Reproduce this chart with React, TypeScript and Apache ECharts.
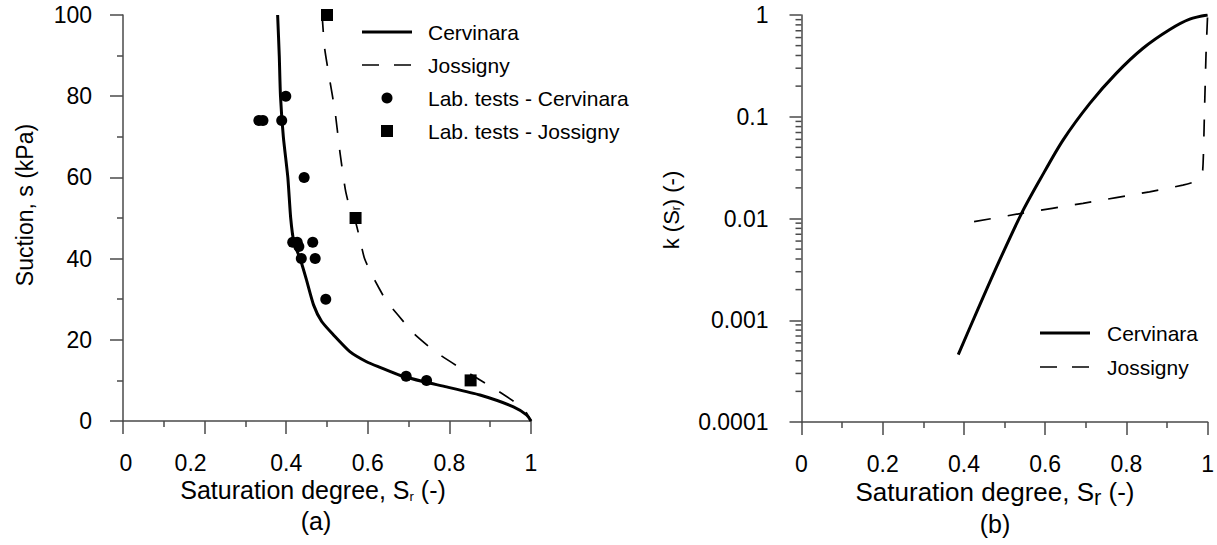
import React, { useEffect, useRef } from "react";
import * as echarts from "echarts";

// ---- Data: panel (a) water retention ----
const cervinaraCurveS = [0.379, 0.383, 0.386, 0.393, 0.404, 0.411, 0.419, 0.434, 0.449, 0.467, 0.487, 0.516, 0.556, 0.597, 0.63, 0.68, 0.74, 0.793, 0.875, 0.957, 0.989, 1.0];
const cervinaraCurveSuction = [100, 90, 80, 70, 60, 50, 44, 40, 35, 28.6, 24.5, 21.2, 17.1, 14.6, 13.2, 11.2, 9.6, 8.4, 6.4, 3.5, 1.5, 0];

const jossignyCurveS = [0.488, 0.494, 0.505, 0.52, 0.532, 0.545, 0.557, 0.57, 0.58, 0.592, 0.61, 0.626, 0.646, 0.675, 0.712, 0.765, 0.834, 0.916, 0.981, 1.0];
const jossignyCurveSuction = [100, 92, 85, 76, 66, 57, 52, 49, 45, 40, 36, 33, 29.5, 26, 21.6, 17.1, 12.6, 7.6, 3.1, 0];

const labCervinaraS = [0.333, 0.343, 0.389, 0.399, 0.444, 0.416, 0.427, 0.431, 0.465, 0.437, 0.471, 0.497, 0.694, 0.744];
const labCervinaraSuction = [74, 74, 74, 80, 60, 44, 44, 43, 44, 40, 40, 30, 11, 10];

const labJossignyS = [0.5, 0.57, 0.852];
const labJossignySuction = [100, 50, 10];

// ---- Data: panel (b) relative permeability ----
const kCervinaraS = [0.386, 0.435, 0.484, 0.542, 0.587, 0.644, 0.71, 0.775, 0.841, 0.907, 0.956, 1.0];
const kCervinaraK = [0.00046, 0.0013, 0.0036, 0.01125, 0.024, 0.059, 0.1355, 0.267, 0.471, 0.72, 0.91, 1.0];

const kJossignyS = [0.425, 0.542, 0.693, 0.857, 0.939, 0.968, 0.981, 0.988, 0.992, 0.996, 1.0];
const kJossignyK = [0.0093, 0.01125, 0.0141, 0.0183, 0.0213, 0.023, 0.026, 0.03, 0.1, 0.4, 1.0];

// ---- Axis ticks ----
const xTickInterval = 0.2;
const suctionTickInterval = 20;
const logDecades = [0.0001, 0.001, 0.01, 0.1];
const logMantissas = [2, 3, 4, 5, 6, 7, 8, 9];

const zip = (a: number[], b: number[]) => a.map((v, i) => [v, b[i]]);

const FONT = "Liberation Sans, Arial, Helvetica, sans-serif";
const AXIS_COLOR = "#4a4a4a";

export default function App() {
  const ref = useRef<HTMLDivElement>(null);

  useEffect(() => {
    if (!ref.current) return;
    const chart = echarts.init(ref.current, undefined, { renderer: "svg" });

    const axisLine = { show: true, lineStyle: { color: AXIS_COLOR, width: 1.5 } };
    const axisTick = { show: true, length: 13, lineStyle: { color: AXIS_COLOR, width: 1.5 } };
    const minorTick = { show: true, splitNumber: 2, length: 6, lineStyle: { color: AXIS_COLOR, width: 1.5 } };
    const labelStyle = { color: "#000", fontFamily: FONT, fontSize: 23 };

    const logMinorTicks: number[] = [];
    logDecades.forEach((d) => logMantissas.forEach((m) => logMinorTicks.push(Number((m * d).toPrecision(2)))));

    const txt = (text: string, x: number, y: number, extra: any = {}) => ({
      type: "text",
      x,
      y,
      silent: true,
      style: { text, fill: "#000", fontFamily: FONT, fontSize: 21, verticalAlign: "middle", align: "left", ...extra },
    });

    const option: any = {
      animation: false,
      backgroundColor: "#fff",
      grid: [
        { left: 123, top: 15, width: 408, height: 406 },
        { left: 801.5, top: 15, width: 406.5, height: 407 },
      ],
      xAxis: [
        {
          gridIndex: 0,
          type: "value",
          min: 0,
          max: 1,
          interval: xTickInterval,
          axisLine,
          axisTick,
          minorTick,
          splitLine: { show: false },
          axisLabel: {
            ...labelStyle,
            margin: 30,
            formatter: (v: number) => {
              if (Math.abs(v - 0.2) < 1e-9) return "{l|0.2}";
              if (Math.abs(v) < 1e-9) return "{r|0}";
              return String(Number(v.toFixed(1)));
            },
            rich: {
              l: { ...labelStyle, padding: [0, 28, 0, 0] },
              r: { ...labelStyle, padding: [0, 0, 0, 6] },
            },
          },
        },
        {
          gridIndex: 1,
          type: "value",
          min: 0,
          max: 1,
          interval: xTickInterval,
          axisLine,
          axisTick,
          minorTick,
          splitLine: { show: false },
          axisLabel: { ...labelStyle, margin: 30, formatter: (v: number) => String(Number(v.toFixed(1))) },
        },
      ],
      yAxis: [
        {
          gridIndex: 0,
          type: "value",
          min: 0,
          max: 100,
          interval: suctionTickInterval,
          axisLine,
          axisTick,
          minorTick,
          splitLine: { show: false },
          axisLabel: { ...labelStyle, margin: 31 },
        },
        {
          gridIndex: 1,
          type: "log",
          logBase: 10,
          min: 0.0001,
          max: 1,
          axisLine,
          axisTick: { ...axisTick, length: 12 },
          minorTick: { show: false },
          splitLine: { show: false },
          axisLabel: {
            ...labelStyle,
            margin: 33,
            formatter: (v: number) => String(Number(v.toPrecision(1))),
          },
        },
      ],
      series: [
        {
          name: "Cervinara",
          type: "line",
          xAxisIndex: 0,
          yAxisIndex: 0,
          data: zip(cervinaraCurveS, cervinaraCurveSuction),
          showSymbol: false,
          smooth: 0.2,
          lineStyle: { color: "#000", width: 3 },
          z: 3,
        },
        {
          name: "Jossigny",
          type: "line",
          xAxisIndex: 0,
          yAxisIndex: 0,
          data: zip(jossignyCurveS, jossignyCurveSuction),
          showSymbol: false,
          smooth: 0.2,
          lineStyle: { color: "#000", width: 1.7, type: [17, 17] },
          z: 3,
        },
        {
          name: "Lab. tests - Cervinara",
          type: "scatter",
          xAxisIndex: 0,
          yAxisIndex: 0,
          data: zip(labCervinaraS, labCervinaraSuction),
          symbol: "circle",
          symbolSize: 11,
          itemStyle: { color: "#000", opacity: 1 },
          z: 4,
        },
        {
          name: "Lab. tests - Jossigny",
          type: "scatter",
          xAxisIndex: 0,
          yAxisIndex: 0,
          data: zip(labJossignyS, labJossignySuction),
          symbol: "rect",
          symbolSize: 12,
          itemStyle: { color: "#000", opacity: 1 },
          z: 4,
        },
        {
          name: "Cervinara k",
          type: "line",
          xAxisIndex: 1,
          yAxisIndex: 1,
          data: zip(kCervinaraS, kCervinaraK),
          showSymbol: false,
          smooth: 0.3,
          lineStyle: { color: "#000", width: 3 },
        },
        {
          name: "Jossigny k",
          type: "line",
          xAxisIndex: 1,
          yAxisIndex: 1,
          data: zip(kJossignyS, kJossignyK),
          showSymbol: false,
          smooth: 0.2,
          lineStyle: { color: "#000", width: 1.7, type: [17, 17] },
        },
        {
          name: "log minor ticks",
          type: "custom",
          xAxisIndex: 1,
          yAxisIndex: 1,
          silent: true,
          clip: false,
          data: logMinorTicks.map((v) => [0, v]),
          renderItem: (_params: any, api: any) => {
            const p = api.coord([0, api.value(1)]);
            return {
              type: "line",
              shape: { x1: p[0] - 6, y1: p[1], x2: p[0], y2: p[1] },
              style: { stroke: AXIS_COLOR, lineWidth: 1.5 },
            };
          },
        },
      ],
      graphic: [
        // legend (a)
        { type: "line", silent: true, shape: { x1: 362, y1: 32, x2: 412, y2: 32 }, style: { stroke: "#000", lineWidth: 3 } },
        { type: "line", silent: true, shape: { x1: 362, y1: 65, x2: 412, y2: 65 }, style: { stroke: "#000", lineWidth: 1.7, lineDash: [17, 15] } },
        { type: "circle", silent: true, shape: { cx: 387, cy: 98, r: 5.5 }, style: { fill: "#000" } },
        { type: "rect", silent: true, shape: { x: 381, y: 125, width: 12, height: 12 }, style: { fill: "#000" } },
        txt("Cervinara", 428, 32),
        txt("Jossigny", 428, 65),
        txt("Lab. tests - Cervinara", 428, 98),
        txt("Lab. tests - Jossigny", 428, 131),
        // legend (b)
        { type: "line", silent: true, shape: { x1: 1040, y1: 333, x2: 1090, y2: 333 }, style: { stroke: "#000", lineWidth: 3 } },
        { type: "line", silent: true, shape: { x1: 1040, y1: 367, x2: 1090, y2: 367 }, style: { stroke: "#000", lineWidth: 1.7, lineDash: [17, 15] } },
        txt("Cervinara", 1107, 333),
        txt("Jossigny", 1107, 367),
        // axis titles (a)
        {
          type: "text",
          x: 313,
          y: 490,
          silent: true,
          style: {
            text: "{a|Saturation degree, S}{s|r}{a| (-)}",
            fill: "#000",
            align: "center",
            verticalAlign: "middle",
            rich: {
              a: { fontFamily: FONT, fontSize: 25, fill: "#000" },
              s: { fontFamily: FONT, fontSize: 13, fill: "#000", padding: [12, 0, 0, 0] },
            },
          },
        },
        txt("(a)", 316, 521, { fontSize: 25, align: "center" }),
        {
          type: "text",
          x: 25,
          y: 205,
          rotation: Math.PI / 2,
          silent: true,
          style: { text: "Suction, s (kPa)", fill: "#000", fontFamily: FONT, fontSize: 23, align: "center", verticalAlign: "middle" },
        },
        // axis titles (b)
        {
          type: "text",
          x: 995,
          y: 492,
          silent: true,
          style: {
            text: "{a|Saturation degree, S}{s|r}{a| (-)}",
            fill: "#000",
            align: "center",
            verticalAlign: "middle",
            rich: {
              a: { fontFamily: FONT, fontSize: 26, fill: "#000" },
              s: { fontFamily: FONT, fontSize: 22, fill: "#000", padding: [10, 0, 0, 0] },
            },
          },
        },
        txt("(b)", 995, 524, { fontSize: 25, align: "center" }),
        {
          type: "text",
          x: 671,
          y: 210,
          rotation: Math.PI / 2,
          silent: true,
          style: {
            text: "{a|k (S}{s|r}{a|) (-)}",
            fill: "#000",
            align: "center",
            verticalAlign: "middle",
            rich: {
              a: { fontFamily: FONT, fontSize: 22, fill: "#000" },
              s: { fontFamily: FONT, fontSize: 12, fill: "#000", padding: [10, 0, 0, 0] },
            },
          },
        },
      ],
    };

    chart.setOption(option);
    return () => chart.dispose();
  }, []);

  return <div ref={ref} style={{ position: "absolute", left: 0, top: 0, width: 1217, height: 545, background: "#fff" }} />;
}
